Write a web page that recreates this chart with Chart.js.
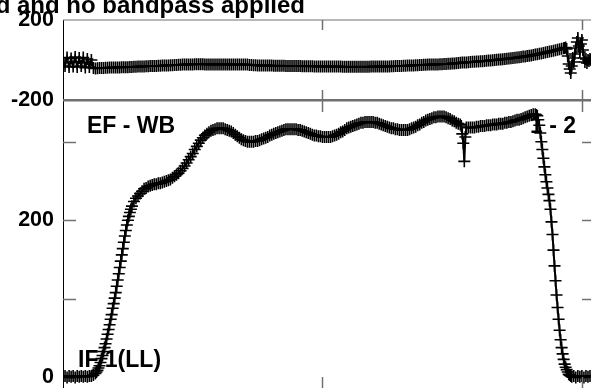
<!DOCTYPE html>
<html>
<head>
<meta charset="utf-8">
<script src="https://cdn.jsdelivr.net/npm/chart.js@4.4.1/dist/chart.umd.min.js"></script>
<style>
  body { margin: 0; background: #fff; }
  #wrap { position: relative; width: 591px; height: 388px; overflow: hidden; background: #fff; }
  canvas { position: absolute; left: 0; }
  #phase { top: 0; }
  #amp { top: 90px; }
</style>
</head>
<body>
<div id="wrap">
  <canvas id="phase" width="591" height="120"></canvas>
  <canvas id="amp" width="591" height="298"></canvas>
</div>
<script>
// channel axis: ticks every 256 channels, right side of the plot is cut off
const xTicks = [0, 256, 512];
const phaseTicks = [-200, 200];
const ampTicks = [0, 100, 200, 300];
const ampLabels = [0, 200];

// amplitude (bottom panel)
const ampChan = [
  0, 2, 4, 6, 8, 10, 12, 14, 16, 18, 20, 22, 24, 26, 28,
  30, 32, 33, 34, 35, 36, 37, 38, 39, 40, 41, 42, 43, 44, 45, 46, 47, 48, 49,
  50, 51, 52, 53, 54, 55, 56, 57, 58, 59, 60, 61, 62, 63, 64, 65, 66, 67, 68,
  70, 72, 74, 76, 78, 80, 82, 84, 86, 88,
  90, 92, 94, 96, 98, 100, 102, 104, 106, 108,
  110, 112, 114, 116, 118, 120, 122, 124, 126, 128,
  130, 132, 134, 136, 138, 140, 142, 144, 146, 148,
  150, 152, 154, 156, 158, 160, 162, 164, 166, 168,
  170, 172, 174, 176, 178, 180, 182, 184, 186, 188,
  190, 192, 194, 196, 198, 200, 202, 204, 206, 208,
  210, 212, 214, 216, 218, 220, 222, 224, 226, 228,
  230, 232, 234, 236, 238, 240, 242, 244, 246, 248,
  250, 252, 254, 256, 258, 260, 262, 264, 266, 268,
  270, 272, 274, 276, 278, 280, 282, 284, 286, 288,
  290, 292, 294, 296, 298, 300, 302, 304, 306, 308,
  310, 312, 314, 316, 318, 320, 322, 324, 326, 328,
  330, 332, 334, 336, 338, 340, 342, 344, 346, 348,
  350, 352, 354, 356, 358, 360, 362, 364, 366, 368,
  370, 372, 374, 376, 378, 380, 382, 384, 386, 388,
  390, 392, 393, 394, 395, 396, 397, 398,
  400, 402, 404, 406, 408, 410, 412, 414, 416, 418,
  420, 422, 424, 426, 428, 430, 432, 434, 436, 438,
  440, 442, 444, 446, 448, 450, 452, 454, 456, 458,
  460, 462, 464, 466, 467,
  468, 469, 470, 471, 472, 473, 474, 475, 476, 477, 478, 479, 480, 481, 482, 483, 484, 485,
  486, 487, 488, 489, 490, 491, 492, 493, 494, 495, 496, 497, 498, 499, 500, 501, 502,
  504, 506, 508, 510, 512, 514, 516, 518, 520
];
const ampVal = [
  1, 2, 0, 2, 1, 2, 0, 2, 1, 2, 1, 2, 1, 2, 2,
  3, 5, 7, 9, 12, 15, 19, 24, 28, 33, 38, 43, 49, 55, 61, 67, 74, 80, 88,
  94, 101, 108, 116, 124, 132, 140, 148, 156, 164, 172, 180, 187, 194, 200, 205, 210, 214, 218,
  224, 228, 231, 234, 237, 240, 241, 243, 244, 245,
  246, 246, 247, 247, 248, 249, 250, 251, 252, 254,
  256, 258, 260, 263, 266, 269, 273, 277, 281, 285,
  290, 294, 298, 302, 305, 308, 310, 312, 314, 315,
  316, 317, 317, 317, 317, 316, 315, 314, 313, 311,
  309, 307, 305, 303, 302, 301, 300, 300, 300, 300,
  301, 301, 302, 303, 304, 305, 306, 308, 309, 310,
  311, 312, 313, 314, 315, 316, 316, 316, 316, 316,
  316, 315, 315, 314, 313, 312, 311, 310, 309, 308,
  308, 307, 307, 306, 306, 306, 306, 306, 307, 308,
  309, 310, 312, 313, 315, 317, 318, 319, 320, 321,
  322, 323, 324, 324, 325, 325, 325, 325, 325, 324,
  324, 323, 322, 321, 320, 319, 318, 317, 317, 316,
  316, 315, 315, 315, 315, 315, 316, 317, 318, 319,
  321, 322, 324, 325, 327, 328, 329, 330, 331, 331,
  332, 332, 332, 332, 331, 330, 329, 327, 326, 324,
  323, 322, 320, 310, 298, 275, 306, 318,
  318, 318, 318, 318, 319, 319, 320, 320, 320, 321,
  321, 321, 322, 322, 322, 323, 323, 323, 324, 324,
  325, 325, 326, 327, 328, 328, 329, 330, 331, 332,
  333, 334, 335, 335, 334,
  333, 328, 321, 311, 300, 290, 279, 268, 258, 249, 241, 233, 225, 214, 198, 182, 162, 142,
  123, 105, 89, 74, 60, 48, 38, 30, 23, 17, 13, 10, 7, 4, 3, 2, 1,
  2, 0, 2, 1, 2, 0, 2, 1, 2
];

// phase (top panel)
const phaseChan = [
  0, 2, 4, 6, 8, 10, 12, 14, 16, 18, 20, 22, 24, 26, 28, 30,
  32, 34, 36, 38, 40, 42, 44, 46, 48, 50,
  52, 54, 56, 58, 60, 62, 64, 66, 68, 70,
  72, 74, 76, 78, 80, 82, 84, 86, 88, 90,
  92, 94, 96, 98, 100, 102, 104, 106, 108, 110,
  112, 114, 116, 118, 120, 122, 124, 126, 128, 130,
  132, 134, 136, 138, 140, 142, 144, 146, 148, 150,
  152, 154, 156, 158, 160, 162, 164, 166, 168, 170,
  172, 174, 176, 178, 180, 182, 184, 186, 188, 190,
  192, 194, 196, 198, 200, 202, 204, 206, 208, 210,
  212, 214, 216, 218, 220, 222, 224, 226, 228, 230,
  232, 234, 236, 238, 240, 242, 244, 246, 248, 250,
  252, 254, 256, 258, 260, 262, 264, 266, 268, 270,
  272, 274, 276, 278, 280, 282, 284, 286, 288, 290,
  292, 294, 296, 298, 300, 302, 304, 306, 308, 310,
  312, 314, 316, 318, 320, 322, 324, 326, 328, 330,
  332, 334, 336, 338, 340, 342, 344, 346, 348, 350,
  352, 354, 356, 358, 360, 362, 364, 366, 368, 370,
  372, 374, 376, 378, 380, 382, 384, 386, 388, 390,
  392, 394, 396, 398, 400, 402, 404, 406, 408, 410,
  412, 414, 416, 418, 420, 422, 424, 426, 428, 430,
  432, 434, 436, 438, 440, 442, 444, 446, 448, 450,
  452, 454, 456, 458, 460, 462, 464, 466, 468, 470,
  472, 474, 476, 478, 480, 482, 484, 486, 488, 490,
  492, 494,
  495, 496, 497, 498, 499, 500, 501, 502, 503, 504, 505, 506, 507, 508,
  509, 510, 511, 512, 513, 514, 515, 516, 517, 518, 519, 520, 521
];
const phaseVal = [
  5, -30, 12, -35, 8, -32, 15, -35, 10, -30, 12, -38, 5, -35, 0, -40,
  -42, -41, -40, -40, -40, -39, -39, -38, -38, -37,
  -37, -37, -37, -36, -36, -36, -36, -35, -35, -34,
  -34, -33, -33, -32, -32, -31, -31, -30, -30, -30,
  -30, -29, -29, -28, -28, -27, -27, -26, -26, -25,
  -25, -24, -24, -23, -23, -22, -22, -22, -22, -21,
  -21, -21, -21, -21, -22, -22, -22, -22, -22, -22,
  -22, -22, -22, -22, -22, -22, -22, -22, -23, -23,
  -23, -23, -23, -23, -23, -23, -25, -25, -26, -26,
  -27, -27, -28, -28, -28, -28, -28, -28, -29, -29,
  -29, -29, -29, -29, -30, -30, -30, -30, -30, -30,
  -30, -30, -31, -31, -31, -31, -31, -31, -32, -32,
  -32, -32, -32, -32, -32, -32, -33, -33, -33, -33,
  -33, -33, -34, -34, -34, -34, -34, -34, -34, -34,
  -34, -34, -34, -34, -34, -34, -33, -33, -33, -33,
  -33, -33, -32, -32, -32, -32, -31, -31, -30, -30,
  -30, -30, -29, -29, -28, -28, -27, -27, -26, -26,
  -25, -25, -24, -24, -23, -23, -23, -23, -22, -22,
  -21, -21, -20, -20, -19, -19, -18, -17, -16, -15,
  -14, -13, -12, -12, -11, -10, -9, -9, -8, -7,
  -6, -6, -5, -4, -3, -2, -1, 0, 1, 2,
  3, 4, 5, 6, 7, 9, 10, 11, 12, 14,
  15, 17, 18, 20, 21, 23, 25, 27, 29, 31,
  33, 35, 37, 40, 42, 44, 46, 49, 51, 54,
  56, 59,
  60, 62, 55, 20, -20, -45, -65, -30, 10, -10, 30, 60, 90, 110,
  70, 40, 80, 100, 50, 10, -10, 5, -15, 0, -5, 5, 0
];

if (ampChan.length !== ampVal.length || phaseChan.length !== phaseVal.length) {
  throw new Error('length mismatch ' + ampChan.length + '/' + ampVal.length + ' ' + phaseChan.length + '/' + phaseVal.length);
}

const FONT = '"Liberation Sans", Arial, Helvetica, sans-serif';
const GREY = '#707070';

// plot frame and inward ticks
const frame = {
  id: 'frame',
  afterDraw(chart, args, o) {
    const { ctx, chartArea: a, scales: { x, y } } = chart;
    const seg = (x1, y1, x2, y2) => { ctx.beginPath(); ctx.moveTo(x1, y1); ctx.lineTo(x2, y2); ctx.stroke(); };
    ctx.save();
    ctx.strokeStyle = GREY;
    if (o.top) { ctx.lineWidth = o.top; seg(a.left, a.top, a.right, a.top); }
    if (o.bottom) { ctx.lineWidth = o.bottom; seg(a.left, a.bottom, a.right, a.bottom); }
    ctx.lineWidth = 1.5;
    xTicks.slice(1).forEach(v => {
      const px = Math.round(x.getPixelForValue(v)) + 0.5;
      seg(px, a.top, px, a.top + o.tick);
      seg(px, a.bottom, px, a.bottom - o.tick);
    });
    (o.yTicks || []).forEach(v => {
      const py = Math.round(y.getPixelForValue(v)) + 0.5;
      seg(a.left, py, a.left + 13, py);
      seg(a.right, py, a.right - 9, py);
    });
    ctx.restore();
  }
};

// free text on the panels
const marks = {
  id: 'marks',
  beforeDatasetsDraw(chart, args, o) {
    const ctx = chart.ctx;
    ctx.save();
    ctx.fillStyle = '#000';
    ctx.textBaseline = 'alphabetic';
    (o.items || []).forEach(t => {
      ctx.font = 'bold ' + t.size + 'px ' + FONT;
      ctx.textAlign = t.align || 'left';
      ctx.fillText(t.text, t.x, t.y);
    });
    ctx.restore();
  }
};

function panel(id, chan, vals, opt) {
  return new Chart(document.getElementById(id), {
    type: 'scatter',
    data: {
      datasets: [{
        data: chan.map((c, i) => ({ x: c, y: vals[i] })),
        showLine: true,
        borderColor: '#000',
        borderWidth: 2,
        pointStyle: 'cross',
        pointRadius: 6,
        pointBorderWidth: 1.6,
        pointBorderColor: '#000'
      }]
    },
    options: {
      responsive: false,
      animation: false,
      devicePixelRatio: 1,
      layout: { padding: opt.padding, autoPadding: false },
      plugins: {
        legend: { display: false },
        tooltip: { enabled: false },
        frame: opt.frame,
        marks: { items: opt.text }
      },
      scales: {
        x: { type: 'linear', display: false, min: 0, max: 521 },
        y: {
          min: opt.min,
          max: opt.max,
          grid: { display: false, drawTicks: false },
          border: { display: true, color: '#000', width: 1 },
          ticks: {
            padding: 9,
            color: '#000',
            font: { family: FONT, size: 21.5, weight: 'bold' },
            callback: v => opt.labels.includes(v) ? String(v) : ''
          },
          afterBuildTicks: s => { s.ticks = opt.ticks.map(v => ({ value: v })); },
          afterFit: s => { s.width = 63; s.paddingTop = 0; s.paddingBottom = 0; }
        }
      }
    },
    plugins: [frame, marks]
  });
}

panel('phase', phaseChan, phaseVal, {
  min: -200, max: 200,
  ticks: phaseTicks, labels: phaseTicks,
  padding: { top: 20, bottom: 20, left: 0, right: 0 },
  frame: { top: 1, bottom: 2, tick: 10 },
  text: [{ text: 'd and no bandpass applied', x: 305, y: 13, size: 24, align: 'right' }]
});

panel('amp', ampChan, ampVal, {
  min: -13.4, max: 351.8,
  ticks: ampTicks, labels: ampLabels,
  padding: { top: 11, bottom: 0, left: 0, right: 0 },
  frame: { top: 1, bottom: 0, tick: 11, yTicks: [100, 200, 300] },
  text: [
    { text: 'EF - WB', x: 87, y: 43, size: 23 },
    { text: '1 - 2', x: 530, y: 43, size: 23 },
    { text: 'IF 1(LL)', x: 78, y: 277, size: 23 }
  ]
});
</script>
</body>
</html>
